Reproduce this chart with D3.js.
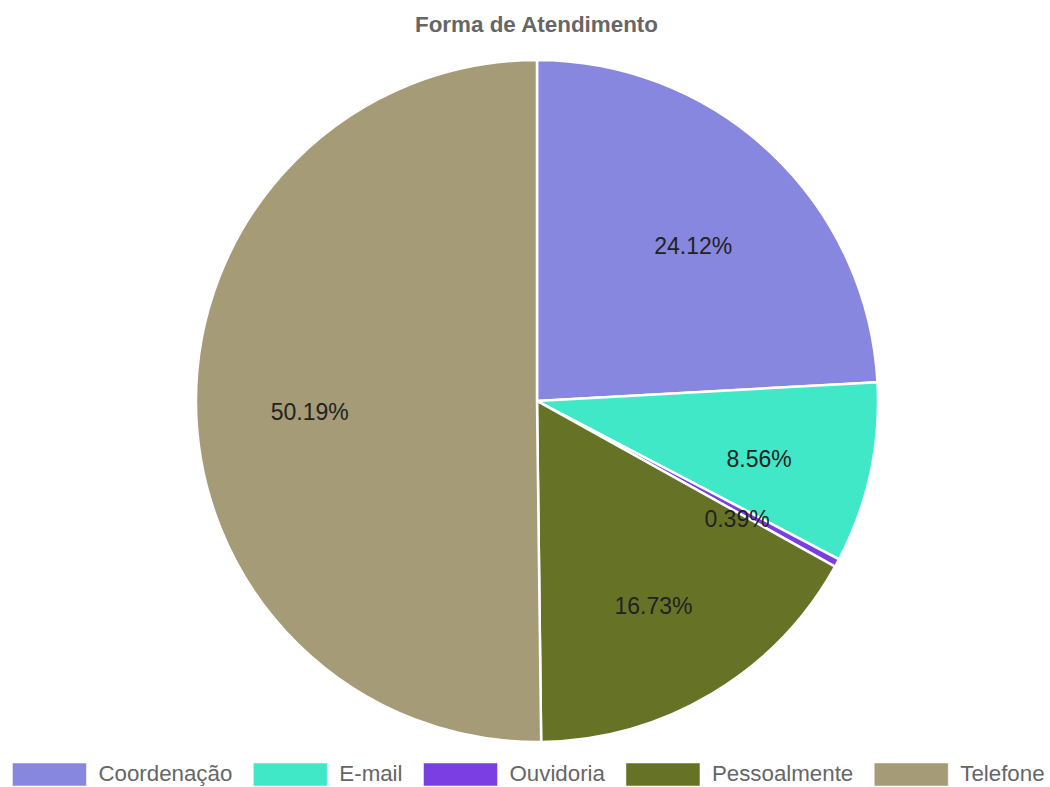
<!DOCTYPE html>
<html>
<head>
<meta charset="utf-8">
<script src="https://cdn.jsdelivr.net/npm/d3@7/dist/d3.min.js"></script>
<style>
  html, body { margin: 0; padding: 0; background: #fff; }
  svg { display: block; font-family: "Liberation Sans", Arial, sans-serif; }
</style>
</head>
<body>
<svg id="chart" width="1050" height="787"></svg>
<script>
const title = "Forma de Atendimento";
const categories = ["Coordenação", "E-mail", "Ouvidoria", "Pessoalmente", "Telefone"];
const values = [24.12, 8.56, 0.39, 16.73, 50.19];
const labels = ["24.12%", "8.56%", "0.39%", "16.73%", "50.19%"];
const colors = ["#8787DF", "#41E8C8", "#7A3FE3", "#667327", "#A59B76"];

const W = 1050, H = 787;
const cx = 537, cy = 401, R = 341;

const svg = d3.select("#chart");

// Title
svg.append("text")
  .attr("x", 536.5).attr("y", 31.5)
  .attr("text-anchor", "middle")
  .attr("font-size", 22.4).attr("font-weight", "bold")
  .attr("fill", "#666")
  .text(title);

const data = categories.map((c, i) => ({ cat: c, value: values[i], label: labels[i], color: colors[i] }));

const pie = d3.pie().value(d => d.value).sort(null);
const arcs = pie(data);
const arc = d3.arc().innerRadius(0).outerRadius(R);
const labelArc = d3.arc().innerRadius(R * 2 / 3).outerRadius(R * 2 / 3);

const g = svg.append("g").attr("transform", `translate(${cx},${cy})`);

g.selectAll("path.slice").data(arcs).enter().append("path")
  .attr("class", "slice")
  .attr("d", arc)
  .attr("fill", d => d.data.color)
  .attr("stroke", "#fff")
  .attr("stroke-width", 2.5)
  .attr("stroke-linejoin", "miter");

g.selectAll("text.lbl").data(arcs).enter().append("text")
  .attr("class", "lbl")
  .attr("x", d => labelArc.centroid(d)[0])
  .attr("y", d => labelArc.centroid(d)[1] + 18)
  .attr("text-anchor", "middle")
  .attr("font-size", 23)
  .attr("fill", "#222")
  .text(d => d.data.label);

// Legend
const boxW = 74, boxH = 23, gapBT = 12, gapItem = 21, legendCenter = 528.5;
const lg = svg.append("g");
const items = lg.selectAll("g.item").data(data).enter().append("g").attr("class", "item");
items.append("rect")
  .attr("width", boxW).attr("height", boxH)
  .attr("y", 763)
  .attr("fill", d => d.color)
  .attr("stroke", "#fff").attr("stroke-opacity", 0.5).attr("stroke-width", 1);
items.append("text")
  .attr("y", 781)
  .attr("font-size", 22.3)
  .attr("fill", "#666")
  .text(d => d.cat);

const widths = [];
items.each(function() {
  widths.push(d3.select(this).select("text").node().getComputedTextLength());
});
const total = widths.reduce((a, w) => a + boxW + gapBT + w, 0) + gapItem * (widths.length - 1);
let x = legendCenter - total / 2;
items.each(function(d, i) {
  const s = d3.select(this);
  s.select("rect").attr("x", x);
  s.select("text").attr("x", x + boxW + gapBT);
  x += boxW + gapBT + widths[i] + gapItem;
});
</script>
</body>
</html>
